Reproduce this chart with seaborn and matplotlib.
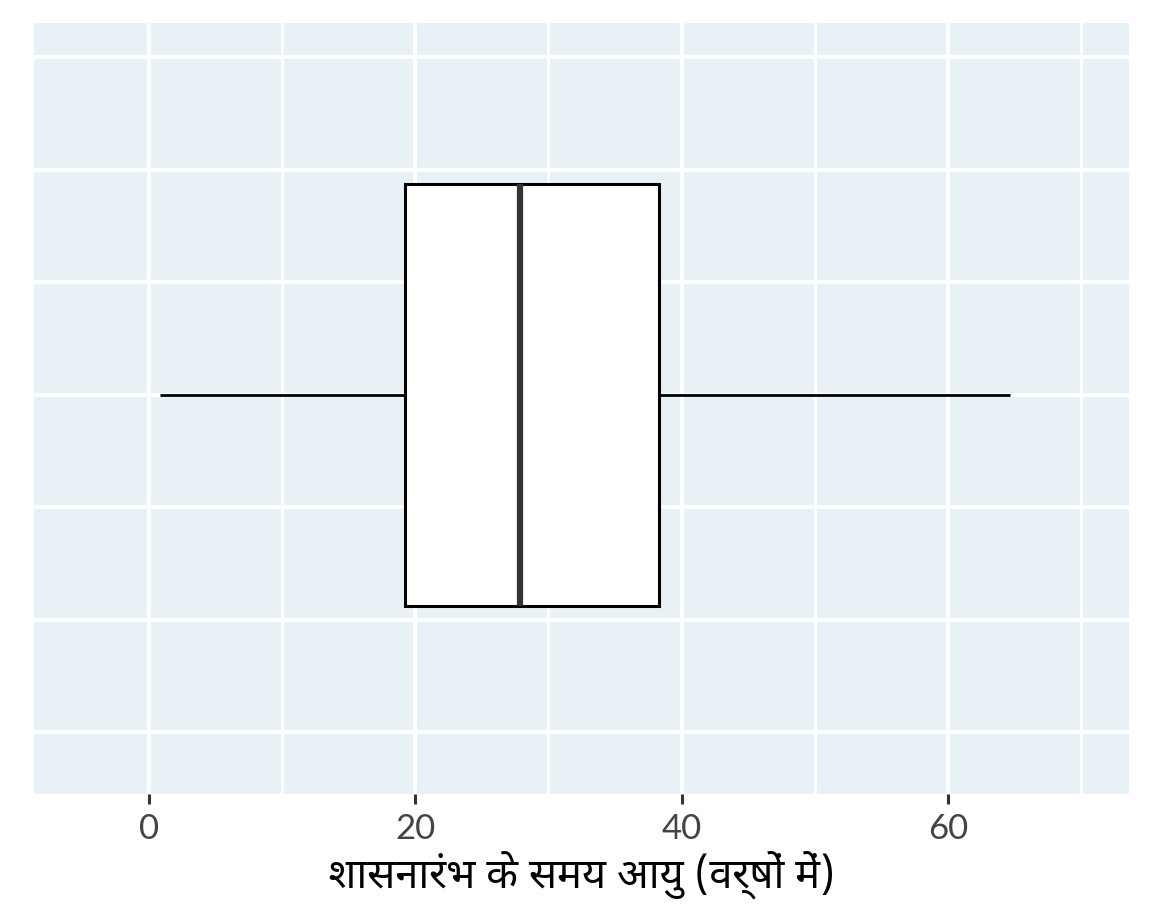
import numpy as np
import matplotlib
matplotlib.use("Agg")
import matplotlib.pyplot as plt
from matplotlib import font_manager
from matplotlib.ft2font import FT2Font
import seaborn as sns

# ages at start of reign (estimated to reproduce the box statistics)
ages = [0.8, 8, 12, 16, 19.2, 21, 24, 26, 27.9, 29, 31, 35, 38.3, 41, 47, 55, 64.7]
x_ticks = [0, 20, 40, 60]
x_minor = [10, 30, 50, 70]
y_grid = [-0.6, -0.4, -0.2, 0.0, 0.2, 0.4, 0.6]
x_label = "शासनारंभ के समय आयु (वर्षों में)"

PANEL = "#E8F1F5"
PREFERRED = ["Noto Sans Devanagari", "Lohit", "Mukta", "Hind", "Gargi",
             "Kalimati", "Sarai", "Mangal", "FreeSans", "FreeSerif"]


def find_devanagari_font():
    found = []
    for f in font_manager.fontManager.ttflist:
        if f.name in found:
            continue
        try:
            cmap = FT2Font(f.fname).get_charmap()
        except Exception:
            continue
        if 0x0936 in cmap and 0x0938 in cmap:
            found.append(f.name)
    for p in PREFERRED:
        for name in found:
            if p.lower() in name.lower():
                return name
    others = [n for n in found if "unifont" not in n.lower()]
    if others:
        return others[0]
    return found[0] if found else None


deva = find_devanagari_font()

sns.set_style("darkgrid", {"axes.facecolor": PANEL, "grid.color": "white"})
plt.rcParams['font.family'] = ['Lato', 'DejaVu Sans']

fig = plt.figure(figsize=(11.52, 9.22), dpi=100)
ax = fig.add_axes([34 / 1152, 128 / 922, 1095 / 1152, 771 / 922])

sns.boxplot(x=ages, width=0.75, color="white", linecolor="black",
            linewidth=2.2, fliersize=0, showcaps=False, saturation=1,
            medianprops=dict(color="#333333", linewidth=4.5),
            boxprops=dict(facecolor="white", edgecolor="black", linewidth=2.2),
            whiskerprops=dict(color="black", linewidth=2),
            ax=ax)

ax.set_xlim(-8.63, 73.6)
ax.set_ylim(0.71, -0.661)
ax.set_xticks(x_ticks)
ax.set_xticks(x_minor, minor=True)
ax.set_yticks(y_grid)
ax.set_yticklabels([])
ax.tick_params(axis="y", length=0, left=False)
ax.tick_params(axis="x", which="major", bottom=True, direction="out",
               length=7, width=2.2, color="#333333",
               labelsize=25, labelcolor="#444444", pad=7)
ax.tick_params(axis="x", which="minor", bottom=False, length=0)
ax.grid(True, which="major", color="white", linewidth=2.8)
ax.grid(True, which="minor", axis="x", color="white", linewidth=2.2)
ax.set_axisbelow(True)
for s in ax.spines.values():
    s.set_visible(False)

fam = [deva, 'DejaVu Sans'] if deva else ['DejaVu Sans']
ax.set_xlabel(x_label, fontsize=30, color="black", family=fam, labelpad=4)
ax.set_ylabel("")

fig.savefig("out.png", dpi=100)
